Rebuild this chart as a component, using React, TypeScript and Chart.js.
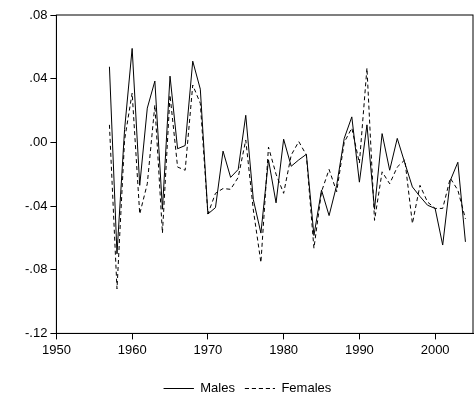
import { useEffect, useRef } from 'react';
import Chart from 'chart.js/auto';

const years = [
  1957, 1958, 1959, 1960, 1961, 1962, 1963, 1964, 1965, 1966, 1967, 1968, 1969, 1970,
  1971, 1972, 1973, 1974, 1975, 1976, 1977, 1978, 1979, 1980, 1981, 1982, 1983, 1984,
  1985, 1986, 1987, 1988, 1989, 1990, 1991, 1992, 1993, 1994, 1995, 1996, 1997, 1998,
  1999, 2000, 2001, 2002, 2003, 2004,
];

const males = [
  0.0475, -0.07, 0.008, 0.059, -0.027, 0.0215, 0.0385, -0.042, 0.0416, -0.004, -0.002, 0.051,
  0.0334, -0.045, -0.041, -0.0055, -0.022, -0.017, 0.017, -0.036, -0.057, -0.011, -0.038,
  0.002, -0.015, -0.011, -0.0075, -0.0585, -0.03, -0.046, -0.027, 0.0025, 0.016, -0.025,
  0.011, -0.042, 0.0055, -0.0175, 0.0025, -0.013, -0.028, -0.034, -0.0395, -0.0415, -0.0645,
  -0.024, -0.0125, -0.0625,
];

const females = [
  0.011, -0.092, 0.0015, 0.031, -0.045, -0.026, 0.0235, -0.057, 0.0297, -0.0155, -0.0175,
  0.036, 0.0245, -0.045, -0.032, -0.029, -0.0295, -0.022, 0.0015, -0.0425, -0.0755, -0.003,
  -0.02, -0.032, -0.008, 0.0005, -0.008, -0.0665, -0.031, -0.017, -0.031, 0.0, 0.009, -0.013,
  0.0467, -0.049, -0.0185, -0.026, -0.0155, -0.011, -0.051, -0.027, -0.0375, -0.0415, -0.0415,
  -0.0225, -0.03, -0.048,
];

const xTicks = [1950, 1960, 1970, 1980, 1990, 2000];

const fmt = (v: number) => {
  const s = Math.abs(v).toFixed(2).replace(/^0/, '');
  return v < -1e-9 ? '-' + s : s;
};

// box round the plot area
const framePlugin = {
  id: 'frame',
  afterDraw(chart: Chart) {
    const { ctx, chartArea: a } = chart;
    ctx.save();
    ctx.strokeStyle = '#000';
    ctx.lineWidth = 1;
    ctx.strokeRect(a.left, a.top, a.right - a.left, a.bottom - a.top);
    ctx.restore();
  },
};

export default function App() {
  const chartRef = useRef<HTMLCanvasElement | null>(null);

  useEffect(() => {
    document.body.style.margin = '0';
    const ctx = chartRef.current?.getContext('2d');
    if (!ctx) return;

    const chart = new Chart(ctx, {
      type: 'line',
      data: {
        datasets: [
          {
            label: 'Males',
            data: years.map((y, i) => ({ x: y, y: males[i] })),
            borderColor: '#000',
            borderWidth: 1,
            pointRadius: 0,
            tension: 0,
          },
          {
            label: 'Females',
            data: years.map((y, i) => ({ x: y, y: females[i] })),
            borderColor: '#000',
            borderWidth: 1,
            borderDash: [4, 3],
            pointRadius: 0,
            tension: 0,
          },
        ],
      },
      options: {
        animation: false,
        responsive: true,
        maintainAspectRatio: false,
        layout: { padding: { top: 15, right: 2, left: 22, bottom: 0 } },
        plugins: {
          tooltip: { enabled: false },
          legend: {
            position: 'bottom',
            labels: {
              boxWidth: 30,
              boxHeight: 0,
              color: '#000',
              padding: 10,
              font: { family: 'Liberation Sans', size: 13 },
            },
          },
        },
        scales: {
          x: {
            type: 'linear',
            min: 1950,
            max: 2005,
            border: { color: '#000' },
            grid: { drawOnChartArea: false, tickLength: 6, color: '#000' },
            afterBuildTicks: (axis) => {
              axis.ticks = xTicks.map((v) => ({ value: v }));
            },
            afterFit: (axis) => {
              axis.height += 11;
            },
            ticks: {
              autoSkip: false,
              color: '#000',
              font: { family: 'Liberation Sans', size: 13 },
              maxRotation: 0,
              callback: (v) => String(v),
            },
          },
          y: {
            min: -0.12,
            max: 0.08,
            border: { color: '#000' },
            grid: { drawOnChartArea: false, tickLength: 6, color: '#000' },
            ticks: {
              stepSize: 0.04,
              color: '#000',
              font: { family: 'Liberation Sans', size: 13 },
              callback: (v) => fmt(Number(v)),
            },
          },
        },
      },
      plugins: [framePlugin],
    });

    return () => chart.destroy();
  }, []);

  return (
    <div style={{ width: 475, height: 405 }}>
      <canvas ref={chartRef}></canvas>
    </div>
  );
}
